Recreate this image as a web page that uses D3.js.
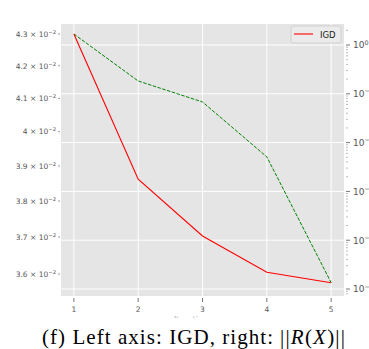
<!DOCTYPE html>
<html lang="en">
<head>
<meta charset="UTF-8">
<title>IGD vs ||R(X)||</title>
<script src="https://d3js.org/d3.v7.min.js"></script>
<style>
    body { margin: 0; background: #fff; }
    .tick-text { font-family: "DejaVu Sans", sans-serif; }
    .caption { font-family: "Liberation Serif", "Times New Roman", serif; }
</style>
</head>
<body>
<svg id="chart" width="369" height="349"></svg>
<script>
// data
var iterations = [1, 2, 3, 4, 5];
var igd = [0.0430, 0.03862, 0.03703, 0.03605, 0.03577];
var normR = [1.68, 0.183, 0.068, 0.0051, 0.0000135];
var leftTicks = [0.036, 0.037, 0.038, 0.039, 0.040, 0.041, 0.042, 0.043];
var leftTickLabels = ["3.6", "3.7", "3.8", "3.9", "4", "4.1", "4.2", "4.3"];
var rightTicks = [1, 1e-1, 1e-2, 1e-3, 1e-4, 1e-5];
var rightTickExp = ["0", "\u22121", "\u22122", "\u22123", "\u22124", "\u22125"];

var svg = d3.select("#chart");
var plotL = 61, plotR = 344, plotT = 24, plotB = 296;

var x = d3.scaleLinear().domain([0.8, 5.2]).range([plotL, plotR]);
var yL = d3.scaleLog().domain([0.03542, 0.04332]).range([plotB, plotT]);
var yR = d3.scaleLog().domain([Math.pow(10, -5.143), Math.pow(10, 0.430)]).range([plotB, plotT]);

// background
svg.append("rect")
    .attr("x", plotL).attr("y", plotT)
    .attr("width", plotR - plotL).attr("height", plotB - plotT)
    .attr("fill", "#e5e5e5");

// grid (x majors, right-axis majors)
svg.selectAll(".vgrid").data(iterations).enter().append("line")
    .attr("x1", d => x(d)).attr("x2", d => x(d))
    .attr("y1", plotT).attr("y2", plotB)
    .attr("stroke", "#fff").attr("stroke-width", 1);
svg.selectAll(".hgrid").data(rightTicks).enter().append("line")
    .attr("x1", plotL).attr("x2", plotR)
    .attr("y1", d => yR(d)).attr("y2", d => yR(d))
    .attr("stroke", "#fff").attr("stroke-width", 1);

// x axis
var xg = svg.append("g");
xg.selectAll("line").data(iterations).enter().append("line")
    .attr("x1", d => x(d)).attr("x2", d => x(d))
    .attr("y1", plotB + 2).attr("y2", plotB + 6)
    .attr("stroke", "#555").attr("stroke-width", 0.8);
xg.selectAll("text").data(iterations).enter().append("text")
    .attr("class", "tick-text")
    .attr("x", d => x(d)).attr("y", plotB + 16)
    .attr("text-anchor", "middle")
    .attr("font-size", 7.5).attr("fill", "#555")
    .text(d => d);

// x label, mostly hidden behind the caption in the original
svg.append("clipPath").attr("id", "xlabclip")
    .append("rect").attr("x", 0).attr("y", 0).attr("width", 369).attr("height", 318);
svg.append("text")
    .attr("class", "tick-text")
    .attr("clip-path", "url(#xlabclip)")
    .attr("x", 193).attr("y", 323)
    .attr("text-anchor", "middle")
    .attr("font-size", 8).attr("fill", "#aaa")
    .text("Iterations");

// left axis
var lg = svg.append("g");
lg.selectAll("line").data(leftTicks).enter().append("line")
    .attr("x1", plotL - 3).attr("x2", plotL - 1)
    .attr("y1", d => yL(d)).attr("y2", d => yL(d))
    .attr("stroke", "#555").attr("stroke-width", 0.6);
var lt = lg.selectAll("text").data(leftTicks).enter().append("text")
    .attr("class", "tick-text")
    .attr("x", plotL - 5).attr("y", d => yL(d) + 2.7)
    .attr("text-anchor", "end")
    .attr("font-size", 7.5).attr("fill", "#555");
lt.append("tspan").text((d, i) => leftTickLabels[i] + " \u00d7 10");
lt.append("tspan").attr("dy", -3).attr("font-size", 5.3).text("\u22122");

// right axis
var rg = svg.append("g");
var minors = [];
for (var e = -6; e <= 0; e++) {
    for (var m = 2; m <= 9; m++) {
        var v = m * Math.pow(10, e);
        if (v >= yR.domain()[0] && v <= yR.domain()[1]) minors.push(v);
    }
}
rg.selectAll(".minor").data(minors).enter().append("line")
    .attr("x1", plotR + 2).attr("x2", plotR + 4)
    .attr("y1", d => yR(d)).attr("y2", d => yR(d))
    .attr("stroke", "#777").attr("stroke-width", 0.5);
rg.selectAll(".major").data(rightTicks).enter().append("line")
    .attr("x1", plotR + 2).attr("x2", plotR + 6)
    .attr("y1", d => yR(d)).attr("y2", d => yR(d))
    .attr("stroke", "#555").attr("stroke-width", 0.8);
var rt = rg.selectAll("text").data(rightTicks).enter().append("text")
    .attr("class", "tick-text")
    .attr("x", plotR + 9).attr("y", d => yR(d) + 3.3)
    .attr("font-size", 9).attr("fill", "#555");
rt.append("tspan").text("10");
rt.append("tspan").attr("dy", -3.6).attr("font-size", 6.4).text((d, i) => rightTickExp[i]);

// lines
var lineL = d3.line().x((d, i) => x(iterations[i])).y(d => yL(d));
var lineR = d3.line().x((d, i) => x(iterations[i])).y(d => yR(d));

svg.append("path").datum(normR)
    .attr("d", lineR).attr("fill", "none")
    .attr("stroke", "#008000").attr("stroke-width", 1)
    .attr("stroke-dasharray", "3.5,1.5");
svg.append("path").datum(igd)
    .attr("d", lineL).attr("fill", "none")
    .attr("stroke", "#ff0000").attr("stroke-width", 1.1);

// legend
var leg = svg.append("g");
leg.append("rect")
    .attr("x", 291).attr("y", 26).attr("width", 50).attr("height", 17).attr("rx", 2)
    .attr("fill", "#ebebeb").attr("stroke", "#cccccc").attr("stroke-width", 0.8);
leg.append("line")
    .attr("x1", 294).attr("x2", 313).attr("y1", 34).attr("y2", 34)
    .attr("stroke", "#ff0000").attr("stroke-width", 1.1);
leg.append("text")
    .attr("class", "tick-text")
    .attr("x", 320).attr("y", 37.5)
    .attr("font-size", 8.5).attr("fill", "#222")
    .text("IGD");

// caption
svg.append("rect").attr("x", 0).attr("y", 320).attr("width", 369).attr("height", 29).attr("fill", "#fff");
svg.append("text")
    .attr("class", "caption")
    .attr("x", 42).attr("y", 344)
    .attr("font-size", 21).attr("fill", "#000")
    .attr("textLength", 231).attr("lengthAdjust", "spacing")
    .text("(f) Left axis: IGD, right:");
var math = svg.append("text")
    .attr("class", "caption")
    .attr("x", 280).attr("y", 344)
    .attr("font-size", 21).attr("fill", "#000")
    .attr("textLength", 65).attr("lengthAdjust", "spacing");
math.append("tspan").text("||");
math.append("tspan").attr("font-style", "italic").text("R");
math.append("tspan").text("(");
math.append("tspan").attr("font-style", "italic").text("X");
math.append("tspan").text(")||");
</script>
</body>
</html>
